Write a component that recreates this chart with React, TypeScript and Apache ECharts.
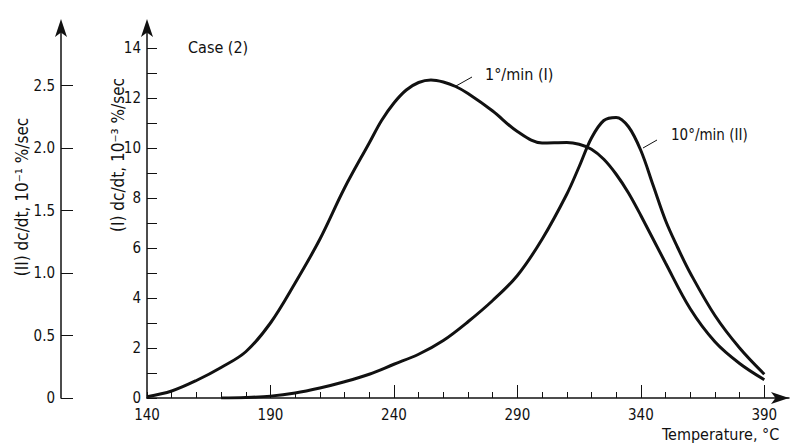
import { useEffect, useRef } from "react";
import * as echarts from "echarts";

// Curve I: 1°/min, values in 10^-3 %/sec (inner axis)
const tempsI = [140, 150, 160, 170, 180, 190, 200, 210, 220, 230, 235, 240, 245, 250, 255, 260, 265, 270, 280, 290, 300, 310, 315, 320, 325, 330, 335, 340, 350, 360, 370, 380, 390];
const rateI = [0.05, 0.28, 0.7, 1.22, 1.85, 3.0, 4.6, 6.35, 8.4, 10.2, 11.1, 11.8, 12.32, 12.62, 12.72, 12.64, 12.46, 12.18, 11.48, 10.66, 10.2, 10.22, 10.15, 9.95, 9.55, 8.95, 8.2, 7.3, 5.4, 3.57, 2.25, 1.38, 0.73];

// Curve II: 10°/min, values in 10^-1 %/sec (outer axis)
const tempsII = [170, 180, 190, 200, 210, 220, 230, 240, 250, 260, 270, 280, 290, 300, 310, 315, 320, 325, 330, 335, 340, 345, 350, 355, 360, 370, 380, 390];
const rateII = [0, 0.004, 0.015, 0.04, 0.08, 0.13, 0.19, 0.27, 0.35, 0.46, 0.61, 0.78, 0.98, 1.27, 1.63, 1.85, 2.08, 2.22, 2.245, 2.17, 1.98, 1.7, 1.42, 1.2, 1.0, 0.66, 0.4, 0.19];

// Tick values
const xLabelValues = [140, 190, 240, 290, 340, 390];
const xMajorTicks = [190, 240, 290, 340, 390];
const xMinorTicks = [140, 150, 160, 170, 180, 190, 200, 210, 220, 230, 240, 250, 260, 270, 280, 290, 300, 310, 320, 330, 340, 350, 360, 370, 380, 390];
const yITicks = [0, 1, 2, 3, 4, 5, 6, 7, 8, 9, 10, 11, 12, 13, 14];
const yILabels = [0, 2, 4, 6, 8, 10, 12, 14];
const yIITicks = [0, 0.5, 1, 1.5, 2, 2.5];

const FONT = "'DejaVu Sans Condensed', 'DejaVu Sans', sans-serif";
const INK = "#111";

export default function App() {
  const ref = useRef<HTMLDivElement>(null);

  useEffect(() => {
    document.body.style.margin = "0";
    const chart = echarts.init(ref.current!, null, { renderer: "svg" });

    const axisLineBase = {
      show: true,
      lineStyle: { color: INK, width: 1.5 },
      symbol: ["none", "arrow"],
      symbolSize: [9, 18],
    };

    const option: any = {
      animation: false,
      backgroundColor: "#fff",
      grid: { left: 147, right: 9, top: 23, bottom: 46 },
      xAxis: [
        {
          type: "value",
          min: 140,
          max: 400,
          position: "bottom",
          axisLine: { ...axisLineBase, symbolOffset: [0, 0] },
          axisTick: { show: true, inside: true, length: 6, customValues: xMinorTicks, lineStyle: { color: INK, width: 1 } },
          axisLabel: { customValues: xLabelValues, color: INK, fontSize: 15, fontFamily: FONT, margin: 9 },
          splitLine: { show: false },
        },
        {
          type: "value",
          min: 140,
          max: 400,
          position: "bottom",
          axisLine: { show: false },
          axisTick: { show: true, inside: true, length: 13, customValues: xMajorTicks, lineStyle: { color: INK, width: 1 } },
          axisLabel: { show: false },
          splitLine: { show: false },
        },
      ],
      yAxis: [
        {
          type: "value",
          min: 0,
          max: 15,
          position: "left",
          offset: 0,
          axisLine: { ...axisLineBase, symbolOffset: [0, 4] },
          axisTick: { show: true, inside: true, length: 10, customValues: yITicks, lineStyle: { color: INK, width: 1 } },
          axisLabel: { customValues: yILabels, color: INK, fontSize: 15, fontFamily: FONT, margin: 6 },
          splitLine: { show: false },
        },
        {
          type: "value",
          min: 0,
          max: 3,
          position: "left",
          offset: 86,
          axisLine: { ...axisLineBase, symbolOffset: [0, 4] },
          axisTick: { show: true, inside: true, length: 12, customValues: yIITicks, lineStyle: { color: INK, width: 1 } },
          axisLabel: {
            customValues: yIITicks,
            color: INK,
            fontSize: 15,
            fontFamily: FONT,
            margin: 6,
            formatter: (v: number) => (v === 0 ? "0" : v.toFixed(1)),
          },
          splitLine: { show: false },
        },
      ],
      series: [
        {
          name: "1°/min (I)",
          type: "line",
          xAxisIndex: 0,
          yAxisIndex: 0,
          smooth: 0.35,
          symbol: "none",
          lineStyle: { color: INK, width: 3 },
          data: tempsI.map((t, i) => [t, rateI[i]]),
        },
        {
          name: "10°/min (II)",
          type: "line",
          xAxisIndex: 0,
          yAxisIndex: 1,
          smooth: 0.35,
          symbol: "none",
          lineStyle: { color: INK, width: 3 },
          data: tempsII.map((t, i) => [t, rateII[i]]),
        },
      ],
      graphic: [
        {
          type: "text",
          x: 118,
          y: 155,
          rotation: Math.PI / 2,
          style: { text: "(I) dc/dt, 10⁻³ %/sec", align: "center", verticalAlign: "middle", fontSize: 17, fontFamily: FONT, fill: INK },
        },
        {
          type: "text",
          x: 22,
          y: 197,
          rotation: Math.PI / 2,
          style: { text: "(II) dc/dt, 10⁻¹ %/sec", align: "center", verticalAlign: "middle", fontSize: 17, fontFamily: FONT, fill: INK },
        },
        {
          type: "text",
          x: 188,
          y: 47,
          style: { text: "Case (2)", align: "left", verticalAlign: "middle", fontSize: 16, fontFamily: FONT, fill: INK },
        },
        {
          type: "text",
          x: 485,
          y: 74,
          style: { text: "1°/min (I)", align: "left", verticalAlign: "middle", fontSize: 16, fontFamily: FONT, fill: INK },
        },
        {
          type: "text",
          x: 671,
          y: 135,
          style: { text: "10°/min (II)", align: "left", verticalAlign: "middle", fontSize: 15, fontFamily: FONT, fill: INK },
        },
        {
          type: "text",
          x: 662,
          y: 434,
          style: { text: "Temperature, °C", align: "left", verticalAlign: "middle", fontSize: 16, fontFamily: FONT, fill: INK },
        },
        { type: "line", shape: { x1: 456, y1: 86, x2: 472, y2: 77 }, style: { stroke: INK, lineWidth: 1 } },
        { type: "line", shape: { x1: 643, y1: 148, x2: 657, y2: 140 }, style: { stroke: INK, lineWidth: 1 } },
      ],
    };

    chart.setOption(option);
    return () => chart.dispose();
  }, []);

  return <div ref={ref} style={{ width: 798, height: 444 }} />;
}
